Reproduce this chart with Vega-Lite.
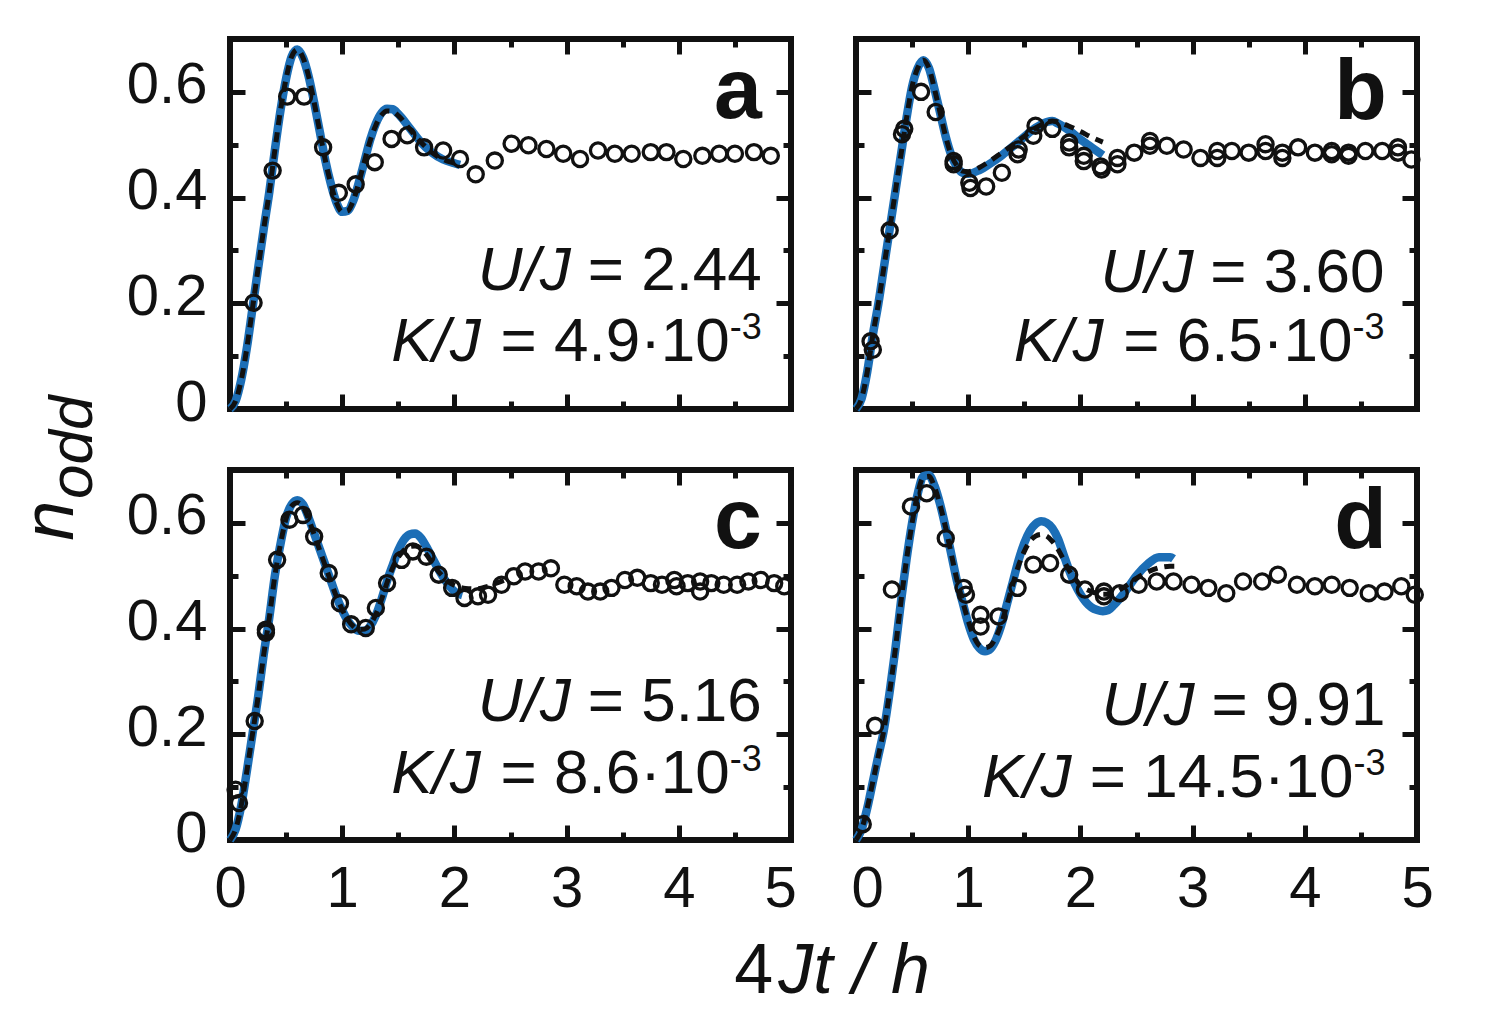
{
  "$schema": "https://vega.github.io/schema/vega-lite/v6.json",
  "background": "white",
  "autosize": {"type": "pad"},
  "padding": {"left": 11, "top": 29, "right": 5, "bottom": 5},
  "bounds": "flush",
  "columns": 2,
  "spacing": {"row": 61, "column": 65},
  "config": {
    "view": {"stroke": "#111", "strokeWidth": 6},
    "axis": {"domain": false, "grid": false, "labelFont": "Liberation Sans", "labelFontSize": 58, "labelColor": "#111", "tickColor": "#111", "tickWidth": 5, "labelOverlap": false, "labelFlush": false},
    "text": {"font": "Liberation Sans", "fill": "#111"}
  },
  "datasets": {
    "anchor": [{"id": 1}],
    "obs": [
      {"panel": "a", "t": 0.21, "n": 0.201}, {"panel": "a", "t": 0.38, "n": 0.451}, {"panel": "a", "t": 0.51, "n": 0.591}, {"panel": "a", "t": 0.66, "n": 0.591},
      {"panel": "a", "t": 0.83, "n": 0.495}, {"panel": "a", "t": 0.97, "n": 0.409}, {"panel": "a", "t": 1.12, "n": 0.425}, {"panel": "a", "t": 1.29, "n": 0.467},
      {"panel": "a", "t": 1.44, "n": 0.511}, {"panel": "a", "t": 1.58, "n": 0.518}, {"panel": "a", "t": 1.73, "n": 0.495}, {"panel": "a", "t": 1.9, "n": 0.489},
      {"panel": "a", "t": 2.05, "n": 0.473}, {"panel": "a", "t": 2.19, "n": 0.444}, {"panel": "a", "t": 2.36, "n": 0.47}, {"panel": "a", "t": 2.51, "n": 0.502},
      {"panel": "a", "t": 2.66, "n": 0.499}, {"panel": "a", "t": 2.82, "n": 0.492}, {"panel": "a", "t": 2.97, "n": 0.483}, {"panel": "a", "t": 3.12, "n": 0.473},
      {"panel": "a", "t": 3.28, "n": 0.489}, {"panel": "a", "t": 3.43, "n": 0.483}, {"panel": "a", "t": 3.58, "n": 0.483}, {"panel": "a", "t": 3.75, "n": 0.486},
      {"panel": "a", "t": 3.89, "n": 0.486}, {"panel": "a", "t": 4.04, "n": 0.473}, {"panel": "a", "t": 4.21, "n": 0.479}, {"panel": "a", "t": 4.36, "n": 0.483},
      {"panel": "a", "t": 4.5, "n": 0.483}, {"panel": "a", "t": 4.67, "n": 0.486}, {"panel": "a", "t": 4.82, "n": 0.479},

      {"panel": "b", "t": 0.13, "n": 0.128}, {"panel": "b", "t": 0.15, "n": 0.112}, {"panel": "b", "t": 0.3, "n": 0.338}, {"panel": "b", "t": 0.43, "n": 0.53},
      {"panel": "b", "t": 0.41, "n": 0.52}, {"panel": "b", "t": 0.58, "n": 0.6}, {"panel": "b", "t": 0.71, "n": 0.562}, {"panel": "b", "t": 0.87, "n": 0.469},
      {"panel": "b", "t": 0.87, "n": 0.463}, {"panel": "b", "t": 1.01, "n": 0.428}, {"panel": "b", "t": 1.02, "n": 0.418}, {"panel": "b", "t": 1.16, "n": 0.421},
      {"panel": "b", "t": 1.3, "n": 0.447}, {"panel": "b", "t": 1.45, "n": 0.491}, {"panel": "b", "t": 1.44, "n": 0.482}, {"panel": "b", "t": 1.6, "n": 0.536},
      {"panel": "b", "t": 1.58, "n": 0.517}, {"panel": "b", "t": 1.75, "n": 0.53}, {"panel": "b", "t": 1.9, "n": 0.504}, {"panel": "b", "t": 1.9, "n": 0.495},
      {"panel": "b", "t": 2.03, "n": 0.479}, {"panel": "b", "t": 2.03, "n": 0.469}, {"panel": "b", "t": 2.18, "n": 0.459}, {"panel": "b", "t": 2.19, "n": 0.453},
      {"panel": "b", "t": 2.33, "n": 0.475}, {"panel": "b", "t": 2.33, "n": 0.463}, {"panel": "b", "t": 2.48, "n": 0.485}, {"panel": "b", "t": 2.62, "n": 0.507},
      {"panel": "b", "t": 2.62, "n": 0.498}, {"panel": "b", "t": 2.77, "n": 0.498}, {"panel": "b", "t": 2.92, "n": 0.491}, {"panel": "b", "t": 3.07, "n": 0.475},
      {"panel": "b", "t": 3.22, "n": 0.475}, {"panel": "b", "t": 3.22, "n": 0.488}, {"panel": "b", "t": 3.35, "n": 0.488}, {"panel": "b", "t": 3.5, "n": 0.485},
      {"panel": "b", "t": 3.65, "n": 0.501}, {"panel": "b", "t": 3.65, "n": 0.488}, {"panel": "b", "t": 3.8, "n": 0.475}, {"panel": "b", "t": 3.8, "n": 0.485},
      {"panel": "b", "t": 3.94, "n": 0.495}, {"panel": "b", "t": 4.09, "n": 0.485}, {"panel": "b", "t": 4.24, "n": 0.488}, {"panel": "b", "t": 4.24, "n": 0.482},
      {"panel": "b", "t": 4.39, "n": 0.485}, {"panel": "b", "t": 4.39, "n": 0.479}, {"panel": "b", "t": 4.54, "n": 0.488}, {"panel": "b", "t": 4.69, "n": 0.488},
      {"panel": "b", "t": 4.83, "n": 0.495}, {"panel": "b", "t": 4.83, "n": 0.485}, {"panel": "b", "t": 4.95, "n": 0.472},

      {"panel": "c", "t": 0.05, "n": 0.095}, {"panel": "c", "t": 0.08, "n": 0.07}, {"panel": "c", "t": 0.22, "n": 0.225}, {"panel": "c", "t": 0.32, "n": 0.392},
      {"panel": "c", "t": 0.32, "n": 0.398}, {"panel": "c", "t": 0.42, "n": 0.53}, {"panel": "c", "t": 0.53, "n": 0.606}, {"panel": "c", "t": 0.65, "n": 0.615},
      {"panel": "c", "t": 0.75, "n": 0.574}, {"panel": "c", "t": 0.88, "n": 0.505}, {"panel": "c", "t": 0.98, "n": 0.448}, {"panel": "c", "t": 1.08, "n": 0.408},
      {"panel": "c", "t": 1.21, "n": 0.401}, {"panel": "c", "t": 1.3, "n": 0.439}, {"panel": "c", "t": 1.4, "n": 0.486}, {"panel": "c", "t": 1.53, "n": 0.53},
      {"panel": "c", "t": 1.63, "n": 0.546}, {"panel": "c", "t": 1.75, "n": 0.536}, {"panel": "c", "t": 1.86, "n": 0.502}, {"panel": "c", "t": 1.98, "n": 0.477},
      {"panel": "c", "t": 2.09, "n": 0.458}, {"panel": "c", "t": 2.21, "n": 0.461}, {"panel": "c", "t": 2.3, "n": 0.464}, {"panel": "c", "t": 2.42, "n": 0.483},
      {"panel": "c", "t": 2.53, "n": 0.499}, {"panel": "c", "t": 2.63, "n": 0.508}, {"panel": "c", "t": 2.75, "n": 0.508}, {"panel": "c", "t": 2.86, "n": 0.514},
      {"panel": "c", "t": 2.98, "n": 0.483}, {"panel": "c", "t": 3.09, "n": 0.48}, {"panel": "c", "t": 3.19, "n": 0.47}, {"panel": "c", "t": 3.3, "n": 0.47},
      {"panel": "c", "t": 3.4, "n": 0.477}, {"panel": "c", "t": 3.52, "n": 0.492}, {"panel": "c", "t": 3.63, "n": 0.496}, {"panel": "c", "t": 3.75, "n": 0.486},
      {"panel": "c", "t": 3.85, "n": 0.483}, {"panel": "c", "t": 3.96, "n": 0.492}, {"panel": "c", "t": 3.98, "n": 0.48}, {"panel": "c", "t": 4.08, "n": 0.486},
      {"panel": "c", "t": 4.19, "n": 0.489}, {"panel": "c", "t": 4.19, "n": 0.47}, {"panel": "c", "t": 4.29, "n": 0.486}, {"panel": "c", "t": 4.4, "n": 0.483},
      {"panel": "c", "t": 4.52, "n": 0.483}, {"panel": "c", "t": 4.62, "n": 0.489}, {"panel": "c", "t": 4.73, "n": 0.492}, {"panel": "c", "t": 4.85, "n": 0.486},
      {"panel": "c", "t": 4.94, "n": 0.48},

      {"panel": "d", "t": 0.06, "n": 0.03}, {"panel": "d", "t": 0.17, "n": 0.216}, {"panel": "d", "t": 0.32, "n": 0.474}, {"panel": "d", "t": 0.49, "n": 0.631},
      {"panel": "d", "t": 0.63, "n": 0.656}, {"panel": "d", "t": 0.8, "n": 0.571}, {"panel": "d", "t": 0.96, "n": 0.477}, {"panel": "d", "t": 0.98, "n": 0.464},
      {"panel": "d", "t": 1.11, "n": 0.426}, {"panel": "d", "t": 1.11, "n": 0.404}, {"panel": "d", "t": 1.27, "n": 0.423}, {"panel": "d", "t": 1.44, "n": 0.477},
      {"panel": "d", "t": 1.58, "n": 0.521}, {"panel": "d", "t": 1.73, "n": 0.524}, {"panel": "d", "t": 1.9, "n": 0.502}, {"panel": "d", "t": 2.04, "n": 0.474},
      {"panel": "d", "t": 2.21, "n": 0.47}, {"panel": "d", "t": 2.21, "n": 0.461}, {"panel": "d", "t": 2.35, "n": 0.467}, {"panel": "d", "t": 2.52, "n": 0.483},
      {"panel": "d", "t": 2.68, "n": 0.489}, {"panel": "d", "t": 2.83, "n": 0.489}, {"panel": "d", "t": 2.99, "n": 0.483}, {"panel": "d", "t": 3.14, "n": 0.477},
      {"panel": "d", "t": 3.3, "n": 0.467}, {"panel": "d", "t": 3.45, "n": 0.489}, {"panel": "d", "t": 3.62, "n": 0.489}, {"panel": "d", "t": 3.76, "n": 0.502},
      {"panel": "d", "t": 3.93, "n": 0.483}, {"panel": "d", "t": 4.09, "n": 0.48}, {"panel": "d", "t": 4.24, "n": 0.483}, {"panel": "d", "t": 4.4, "n": 0.477},
      {"panel": "d", "t": 4.57, "n": 0.467}, {"panel": "d", "t": 4.71, "n": 0.47}, {"panel": "d", "t": 4.86, "n": 0.48}, {"panel": "d", "t": 4.98, "n": 0.464}
    ],
    "fit": [
      {"panel": "a", "curve": "exact", "t": 0, "n": 0}, {"panel": "a", "curve": "exact", "t": 0.05, "n": 0.015}, {"panel": "a", "curve": "exact", "t": 0.1, "n": 0.055},
      {"panel": "a", "curve": "exact", "t": 0.15, "n": 0.115}, {"panel": "a", "curve": "exact", "t": 0.2, "n": 0.19}, {"panel": "a", "curve": "exact", "t": 0.25, "n": 0.265},
      {"panel": "a", "curve": "exact", "t": 0.3, "n": 0.34}, {"panel": "a", "curve": "exact", "t": 0.35, "n": 0.41}, {"panel": "a", "curve": "exact", "t": 0.4, "n": 0.49},
      {"panel": "a", "curve": "exact", "t": 0.45, "n": 0.565}, {"panel": "a", "curve": "exact", "t": 0.5, "n": 0.625}, {"panel": "a", "curve": "exact", "t": 0.55, "n": 0.667},
      {"panel": "a", "curve": "exact", "t": 0.6, "n": 0.68}, {"panel": "a", "curve": "exact", "t": 0.65, "n": 0.665}, {"panel": "a", "curve": "exact", "t": 0.7, "n": 0.63},
      {"panel": "a", "curve": "exact", "t": 0.75, "n": 0.58}, {"panel": "a", "curve": "exact", "t": 0.8, "n": 0.525}, {"panel": "a", "curve": "exact", "t": 0.85, "n": 0.47},
      {"panel": "a", "curve": "exact", "t": 0.9, "n": 0.425}, {"panel": "a", "curve": "exact", "t": 0.95, "n": 0.39}, {"panel": "a", "curve": "exact", "t": 1.0, "n": 0.373},
      {"panel": "a", "curve": "exact", "t": 1.05, "n": 0.375}, {"panel": "a", "curve": "exact", "t": 1.1, "n": 0.395}, {"panel": "a", "curve": "exact", "t": 1.15, "n": 0.43},
      {"panel": "a", "curve": "exact", "t": 1.2, "n": 0.47}, {"panel": "a", "curve": "exact", "t": 1.25, "n": 0.51}, {"panel": "a", "curve": "exact", "t": 1.3, "n": 0.54},
      {"panel": "a", "curve": "exact", "t": 1.35, "n": 0.56}, {"panel": "a", "curve": "exact", "t": 1.4, "n": 0.568}, {"panel": "a", "curve": "exact", "t": 1.45, "n": 0.567},
      {"panel": "a", "curve": "exact", "t": 1.5, "n": 0.558}, {"panel": "a", "curve": "exact", "t": 1.6, "n": 0.532}, {"panel": "a", "curve": "exact", "t": 1.7, "n": 0.505},
      {"panel": "a", "curve": "exact", "t": 1.8, "n": 0.485}, {"panel": "a", "curve": "exact", "t": 1.9, "n": 0.472}, {"panel": "a", "curve": "exact", "t": 2.0, "n": 0.465},
      {"panel": "a", "curve": "exact", "t": 2.05, "n": 0.462},

      {"panel": "a", "curve": "effective", "t": 0, "n": 0}, {"panel": "a", "curve": "effective", "t": 0.05, "n": 0.015}, {"panel": "a", "curve": "effective", "t": 0.1, "n": 0.055},
      {"panel": "a", "curve": "effective", "t": 0.15, "n": 0.115}, {"panel": "a", "curve": "effective", "t": 0.2, "n": 0.19}, {"panel": "a", "curve": "effective", "t": 0.25, "n": 0.265},
      {"panel": "a", "curve": "effective", "t": 0.3, "n": 0.34}, {"panel": "a", "curve": "effective", "t": 0.35, "n": 0.41}, {"panel": "a", "curve": "effective", "t": 0.4, "n": 0.49},
      {"panel": "a", "curve": "effective", "t": 0.45, "n": 0.565}, {"panel": "a", "curve": "effective", "t": 0.5, "n": 0.625}, {"panel": "a", "curve": "effective", "t": 0.55, "n": 0.667},
      {"panel": "a", "curve": "effective", "t": 0.6, "n": 0.68}, {"panel": "a", "curve": "effective", "t": 0.65, "n": 0.665}, {"panel": "a", "curve": "effective", "t": 0.7, "n": 0.63},
      {"panel": "a", "curve": "effective", "t": 0.75, "n": 0.58}, {"panel": "a", "curve": "effective", "t": 0.8, "n": 0.525}, {"panel": "a", "curve": "effective", "t": 0.85, "n": 0.47},
      {"panel": "a", "curve": "effective", "t": 0.9, "n": 0.425}, {"panel": "a", "curve": "effective", "t": 0.95, "n": 0.39}, {"panel": "a", "curve": "effective", "t": 1.0, "n": 0.373},
      {"panel": "a", "curve": "effective", "t": 1.05, "n": 0.375}, {"panel": "a", "curve": "effective", "t": 1.1, "n": 0.395}, {"panel": "a", "curve": "effective", "t": 1.15, "n": 0.43},
      {"panel": "a", "curve": "effective", "t": 1.2, "n": 0.47}, {"panel": "a", "curve": "effective", "t": 1.25, "n": 0.508}, {"panel": "a", "curve": "effective", "t": 1.3, "n": 0.537},
      {"panel": "a", "curve": "effective", "t": 1.35, "n": 0.556}, {"panel": "a", "curve": "effective", "t": 1.4, "n": 0.564}, {"panel": "a", "curve": "effective", "t": 1.45, "n": 0.563},
      {"panel": "a", "curve": "effective", "t": 1.5, "n": 0.555}, {"panel": "a", "curve": "effective", "t": 1.6, "n": 0.53}, {"panel": "a", "curve": "effective", "t": 1.7, "n": 0.505},
      {"panel": "a", "curve": "effective", "t": 1.8, "n": 0.485}, {"panel": "a", "curve": "effective", "t": 1.9, "n": 0.472}, {"panel": "a", "curve": "effective", "t": 2.0, "n": 0.465},
      {"panel": "a", "curve": "effective", "t": 2.05, "n": 0.462},

      {"panel": "b", "curve": "exact", "t": 0, "n": 0}, {"panel": "b", "curve": "exact", "t": 0.05, "n": 0.02}, {"panel": "b", "curve": "exact", "t": 0.1, "n": 0.07},
      {"panel": "b", "curve": "exact", "t": 0.15, "n": 0.14}, {"panel": "b", "curve": "exact", "t": 0.2, "n": 0.2}, {"panel": "b", "curve": "exact", "t": 0.25, "n": 0.27},
      {"panel": "b", "curve": "exact", "t": 0.3, "n": 0.34}, {"panel": "b", "curve": "exact", "t": 0.35, "n": 0.41}, {"panel": "b", "curve": "exact", "t": 0.4, "n": 0.48},
      {"panel": "b", "curve": "exact", "t": 0.45, "n": 0.55}, {"panel": "b", "curve": "exact", "t": 0.5, "n": 0.61}, {"panel": "b", "curve": "exact", "t": 0.55, "n": 0.645},
      {"panel": "b", "curve": "exact", "t": 0.6, "n": 0.66}, {"panel": "b", "curve": "exact", "t": 0.65, "n": 0.645}, {"panel": "b", "curve": "exact", "t": 0.7, "n": 0.605},
      {"panel": "b", "curve": "exact", "t": 0.75, "n": 0.56}, {"panel": "b", "curve": "exact", "t": 0.8, "n": 0.515}, {"panel": "b", "curve": "exact", "t": 0.85, "n": 0.48},
      {"panel": "b", "curve": "exact", "t": 0.9, "n": 0.458}, {"panel": "b", "curve": "exact", "t": 0.95, "n": 0.447}, {"panel": "b", "curve": "exact", "t": 1.0, "n": 0.445},
      {"panel": "b", "curve": "exact", "t": 1.1, "n": 0.452}, {"panel": "b", "curve": "exact", "t": 1.2, "n": 0.465}, {"panel": "b", "curve": "exact", "t": 1.3, "n": 0.48},
      {"panel": "b", "curve": "exact", "t": 1.4, "n": 0.497}, {"panel": "b", "curve": "exact", "t": 1.5, "n": 0.515}, {"panel": "b", "curve": "exact", "t": 1.6, "n": 0.532},
      {"panel": "b", "curve": "exact", "t": 1.7, "n": 0.543}, {"panel": "b", "curve": "exact", "t": 1.75, "n": 0.545}, {"panel": "b", "curve": "exact", "t": 1.8, "n": 0.54},
      {"panel": "b", "curve": "exact", "t": 1.9, "n": 0.527}, {"panel": "b", "curve": "exact", "t": 2.0, "n": 0.51}, {"panel": "b", "curve": "exact", "t": 2.1, "n": 0.495},
      {"panel": "b", "curve": "exact", "t": 2.2, "n": 0.48},

      {"panel": "b", "curve": "effective", "t": 0, "n": 0}, {"panel": "b", "curve": "effective", "t": 0.05, "n": 0.02}, {"panel": "b", "curve": "effective", "t": 0.1, "n": 0.07},
      {"panel": "b", "curve": "effective", "t": 0.15, "n": 0.14}, {"panel": "b", "curve": "effective", "t": 0.2, "n": 0.2}, {"panel": "b", "curve": "effective", "t": 0.25, "n": 0.27},
      {"panel": "b", "curve": "effective", "t": 0.3, "n": 0.34}, {"panel": "b", "curve": "effective", "t": 0.35, "n": 0.41}, {"panel": "b", "curve": "effective", "t": 0.4, "n": 0.48},
      {"panel": "b", "curve": "effective", "t": 0.45, "n": 0.55}, {"panel": "b", "curve": "effective", "t": 0.5, "n": 0.61}, {"panel": "b", "curve": "effective", "t": 0.55, "n": 0.645},
      {"panel": "b", "curve": "effective", "t": 0.6, "n": 0.66}, {"panel": "b", "curve": "effective", "t": 0.65, "n": 0.645}, {"panel": "b", "curve": "effective", "t": 0.7, "n": 0.605},
      {"panel": "b", "curve": "effective", "t": 0.75, "n": 0.56}, {"panel": "b", "curve": "effective", "t": 0.8, "n": 0.515}, {"panel": "b", "curve": "effective", "t": 0.85, "n": 0.48},
      {"panel": "b", "curve": "effective", "t": 0.9, "n": 0.46}, {"panel": "b", "curve": "effective", "t": 0.95, "n": 0.45}, {"panel": "b", "curve": "effective", "t": 1.0, "n": 0.449},
      {"panel": "b", "curve": "effective", "t": 1.1, "n": 0.457}, {"panel": "b", "curve": "effective", "t": 1.2, "n": 0.47}, {"panel": "b", "curve": "effective", "t": 1.3, "n": 0.485},
      {"panel": "b", "curve": "effective", "t": 1.4, "n": 0.5}, {"panel": "b", "curve": "effective", "t": 1.5, "n": 0.516}, {"panel": "b", "curve": "effective", "t": 1.6, "n": 0.532},
      {"panel": "b", "curve": "effective", "t": 1.7, "n": 0.542}, {"panel": "b", "curve": "effective", "t": 1.75, "n": 0.545}, {"panel": "b", "curve": "effective", "t": 1.8, "n": 0.543},
      {"panel": "b", "curve": "effective", "t": 1.9, "n": 0.535}, {"panel": "b", "curve": "effective", "t": 2.0, "n": 0.525}, {"panel": "b", "curve": "effective", "t": 2.1, "n": 0.514},
      {"panel": "b", "curve": "effective", "t": 2.2, "n": 0.505},

      {"panel": "c", "curve": "exact", "t": 0, "n": 0}, {"panel": "c", "curve": "exact", "t": 0.05, "n": 0.02}, {"panel": "c", "curve": "exact", "t": 0.1, "n": 0.065},
      {"panel": "c", "curve": "exact", "t": 0.15, "n": 0.13}, {"panel": "c", "curve": "exact", "t": 0.2, "n": 0.2}, {"panel": "c", "curve": "exact", "t": 0.25, "n": 0.27},
      {"panel": "c", "curve": "exact", "t": 0.3, "n": 0.35}, {"panel": "c", "curve": "exact", "t": 0.35, "n": 0.42}, {"panel": "c", "curve": "exact", "t": 0.4, "n": 0.5},
      {"panel": "c", "curve": "exact", "t": 0.45, "n": 0.56}, {"panel": "c", "curve": "exact", "t": 0.5, "n": 0.61}, {"panel": "c", "curve": "exact", "t": 0.55, "n": 0.635},
      {"panel": "c", "curve": "exact", "t": 0.6, "n": 0.643}, {"panel": "c", "curve": "exact", "t": 0.65, "n": 0.635}, {"panel": "c", "curve": "exact", "t": 0.7, "n": 0.61},
      {"panel": "c", "curve": "exact", "t": 0.75, "n": 0.58}, {"panel": "c", "curve": "exact", "t": 0.8, "n": 0.55}, {"panel": "c", "curve": "exact", "t": 0.85, "n": 0.52},
      {"panel": "c", "curve": "exact", "t": 0.9, "n": 0.49}, {"panel": "c", "curve": "exact", "t": 0.95, "n": 0.46}, {"panel": "c", "curve": "exact", "t": 1.0, "n": 0.435},
      {"panel": "c", "curve": "exact", "t": 1.05, "n": 0.415}, {"panel": "c", "curve": "exact", "t": 1.1, "n": 0.402}, {"panel": "c", "curve": "exact", "t": 1.15, "n": 0.396},
      {"panel": "c", "curve": "exact", "t": 1.2, "n": 0.396}, {"panel": "c", "curve": "exact", "t": 1.25, "n": 0.405}, {"panel": "c", "curve": "exact", "t": 1.3, "n": 0.425},
      {"panel": "c", "curve": "exact", "t": 1.35, "n": 0.455}, {"panel": "c", "curve": "exact", "t": 1.4, "n": 0.49}, {"panel": "c", "curve": "exact", "t": 1.45, "n": 0.52},
      {"panel": "c", "curve": "exact", "t": 1.5, "n": 0.548}, {"panel": "c", "curve": "exact", "t": 1.55, "n": 0.568}, {"panel": "c", "curve": "exact", "t": 1.6, "n": 0.578},
      {"panel": "c", "curve": "exact", "t": 1.65, "n": 0.58}, {"panel": "c", "curve": "exact", "t": 1.7, "n": 0.572}, {"panel": "c", "curve": "exact", "t": 1.75, "n": 0.555},
      {"panel": "c", "curve": "exact", "t": 1.8, "n": 0.535}, {"panel": "c", "curve": "exact", "t": 1.85, "n": 0.515}, {"panel": "c", "curve": "exact", "t": 1.9, "n": 0.497},
      {"panel": "c", "curve": "exact", "t": 1.95, "n": 0.482}, {"panel": "c", "curve": "exact", "t": 2.0, "n": 0.47}, {"panel": "c", "curve": "exact", "t": 2.07, "n": 0.463},

      {"panel": "c", "curve": "effective", "t": 0, "n": 0}, {"panel": "c", "curve": "effective", "t": 0.05, "n": 0.02}, {"panel": "c", "curve": "effective", "t": 0.1, "n": 0.065},
      {"panel": "c", "curve": "effective", "t": 0.15, "n": 0.13}, {"panel": "c", "curve": "effective", "t": 0.2, "n": 0.2}, {"panel": "c", "curve": "effective", "t": 0.25, "n": 0.27},
      {"panel": "c", "curve": "effective", "t": 0.3, "n": 0.35}, {"panel": "c", "curve": "effective", "t": 0.35, "n": 0.42}, {"panel": "c", "curve": "effective", "t": 0.4, "n": 0.5},
      {"panel": "c", "curve": "effective", "t": 0.45, "n": 0.56}, {"panel": "c", "curve": "effective", "t": 0.5, "n": 0.608}, {"panel": "c", "curve": "effective", "t": 0.55, "n": 0.632},
      {"panel": "c", "curve": "effective", "t": 0.6, "n": 0.638}, {"panel": "c", "curve": "effective", "t": 0.65, "n": 0.63}, {"panel": "c", "curve": "effective", "t": 0.7, "n": 0.607},
      {"panel": "c", "curve": "effective", "t": 0.75, "n": 0.578}, {"panel": "c", "curve": "effective", "t": 0.8, "n": 0.548}, {"panel": "c", "curve": "effective", "t": 0.85, "n": 0.518},
      {"panel": "c", "curve": "effective", "t": 0.9, "n": 0.488}, {"panel": "c", "curve": "effective", "t": 0.95, "n": 0.46}, {"panel": "c", "curve": "effective", "t": 1.0, "n": 0.436},
      {"panel": "c", "curve": "effective", "t": 1.05, "n": 0.417}, {"panel": "c", "curve": "effective", "t": 1.1, "n": 0.404}, {"panel": "c", "curve": "effective", "t": 1.15, "n": 0.398},
      {"panel": "c", "curve": "effective", "t": 1.2, "n": 0.399}, {"panel": "c", "curve": "effective", "t": 1.25, "n": 0.408}, {"panel": "c", "curve": "effective", "t": 1.3, "n": 0.427},
      {"panel": "c", "curve": "effective", "t": 1.35, "n": 0.455}, {"panel": "c", "curve": "effective", "t": 1.4, "n": 0.487}, {"panel": "c", "curve": "effective", "t": 1.45, "n": 0.515},
      {"panel": "c", "curve": "effective", "t": 1.5, "n": 0.535}, {"panel": "c", "curve": "effective", "t": 1.55, "n": 0.548}, {"panel": "c", "curve": "effective", "t": 1.6, "n": 0.555},
      {"panel": "c", "curve": "effective", "t": 1.65, "n": 0.556}, {"panel": "c", "curve": "effective", "t": 1.7, "n": 0.552}, {"panel": "c", "curve": "effective", "t": 1.75, "n": 0.54},
      {"panel": "c", "curve": "effective", "t": 1.8, "n": 0.525}, {"panel": "c", "curve": "effective", "t": 1.85, "n": 0.51}, {"panel": "c", "curve": "effective", "t": 1.9, "n": 0.498},
      {"panel": "c", "curve": "effective", "t": 1.95, "n": 0.488}, {"panel": "c", "curve": "effective", "t": 2.0, "n": 0.482}, {"panel": "c", "curve": "effective", "t": 2.1, "n": 0.476},
      {"panel": "c", "curve": "effective", "t": 2.2, "n": 0.475}, {"panel": "c", "curve": "effective", "t": 2.3, "n": 0.48}, {"panel": "c", "curve": "effective", "t": 2.4, "n": 0.488},
      {"panel": "c", "curve": "effective", "t": 2.45, "n": 0.492},

      {"panel": "d", "curve": "exact", "t": 0, "n": 0}, {"panel": "d", "curve": "exact", "t": 0.05, "n": 0.02}, {"panel": "d", "curve": "exact", "t": 0.1, "n": 0.06},
      {"panel": "d", "curve": "exact", "t": 0.15, "n": 0.11}, {"panel": "d", "curve": "exact", "t": 0.2, "n": 0.16}, {"panel": "d", "curve": "exact", "t": 0.25, "n": 0.21},
      {"panel": "d", "curve": "exact", "t": 0.3, "n": 0.28}, {"panel": "d", "curve": "exact", "t": 0.35, "n": 0.36}, {"panel": "d", "curve": "exact", "t": 0.4, "n": 0.45},
      {"panel": "d", "curve": "exact", "t": 0.45, "n": 0.53}, {"panel": "d", "curve": "exact", "t": 0.5, "n": 0.6}, {"panel": "d", "curve": "exact", "t": 0.55, "n": 0.655},
      {"panel": "d", "curve": "exact", "t": 0.6, "n": 0.688}, {"panel": "d", "curve": "exact", "t": 0.65, "n": 0.69}, {"panel": "d", "curve": "exact", "t": 0.7, "n": 0.67},
      {"panel": "d", "curve": "exact", "t": 0.75, "n": 0.635}, {"panel": "d", "curve": "exact", "t": 0.8, "n": 0.59}, {"panel": "d", "curve": "exact", "t": 0.85, "n": 0.54},
      {"panel": "d", "curve": "exact", "t": 0.9, "n": 0.49}, {"panel": "d", "curve": "exact", "t": 0.95, "n": 0.45}, {"panel": "d", "curve": "exact", "t": 1.0, "n": 0.41},
      {"panel": "d", "curve": "exact", "t": 1.05, "n": 0.38}, {"panel": "d", "curve": "exact", "t": 1.1, "n": 0.363}, {"panel": "d", "curve": "exact", "t": 1.15, "n": 0.357},
      {"panel": "d", "curve": "exact", "t": 1.2, "n": 0.362}, {"panel": "d", "curve": "exact", "t": 1.25, "n": 0.38}, {"panel": "d", "curve": "exact", "t": 1.3, "n": 0.41},
      {"panel": "d", "curve": "exact", "t": 1.35, "n": 0.45}, {"panel": "d", "curve": "exact", "t": 1.4, "n": 0.49}, {"panel": "d", "curve": "exact", "t": 1.45, "n": 0.53},
      {"panel": "d", "curve": "exact", "t": 1.5, "n": 0.562}, {"panel": "d", "curve": "exact", "t": 1.55, "n": 0.585}, {"panel": "d", "curve": "exact", "t": 1.6, "n": 0.598},
      {"panel": "d", "curve": "exact", "t": 1.65, "n": 0.603}, {"panel": "d", "curve": "exact", "t": 1.7, "n": 0.6}, {"panel": "d", "curve": "exact", "t": 1.75, "n": 0.59},
      {"panel": "d", "curve": "exact", "t": 1.8, "n": 0.57}, {"panel": "d", "curve": "exact", "t": 1.85, "n": 0.54}, {"panel": "d", "curve": "exact", "t": 1.9, "n": 0.51},
      {"panel": "d", "curve": "exact", "t": 1.95, "n": 0.485}, {"panel": "d", "curve": "exact", "t": 2.0, "n": 0.465}, {"panel": "d", "curve": "exact", "t": 2.05, "n": 0.45},
      {"panel": "d", "curve": "exact", "t": 2.1, "n": 0.44}, {"panel": "d", "curve": "exact", "t": 2.15, "n": 0.435}, {"panel": "d", "curve": "exact", "t": 2.2, "n": 0.433},
      {"panel": "d", "curve": "exact", "t": 2.25, "n": 0.435}, {"panel": "d", "curve": "exact", "t": 2.3, "n": 0.445}, {"panel": "d", "curve": "exact", "t": 2.4, "n": 0.47},
      {"panel": "d", "curve": "exact", "t": 2.5, "n": 0.5}, {"panel": "d", "curve": "exact", "t": 2.6, "n": 0.522}, {"panel": "d", "curve": "exact", "t": 2.7, "n": 0.535},
      {"panel": "d", "curve": "exact", "t": 2.8, "n": 0.535}, {"panel": "d", "curve": "exact", "t": 2.83, "n": 0.532},

      {"panel": "d", "curve": "effective", "t": 0, "n": 0}, {"panel": "d", "curve": "effective", "t": 0.05, "n": 0.02}, {"panel": "d", "curve": "effective", "t": 0.1, "n": 0.06},
      {"panel": "d", "curve": "effective", "t": 0.15, "n": 0.11}, {"panel": "d", "curve": "effective", "t": 0.2, "n": 0.16}, {"panel": "d", "curve": "effective", "t": 0.25, "n": 0.21},
      {"panel": "d", "curve": "effective", "t": 0.3, "n": 0.28}, {"panel": "d", "curve": "effective", "t": 0.35, "n": 0.36}, {"panel": "d", "curve": "effective", "t": 0.4, "n": 0.45},
      {"panel": "d", "curve": "effective", "t": 0.45, "n": 0.53}, {"panel": "d", "curve": "effective", "t": 0.5, "n": 0.6}, {"panel": "d", "curve": "effective", "t": 0.55, "n": 0.655},
      {"panel": "d", "curve": "effective", "t": 0.6, "n": 0.686}, {"panel": "d", "curve": "effective", "t": 0.65, "n": 0.688}, {"panel": "d", "curve": "effective", "t": 0.7, "n": 0.668},
      {"panel": "d", "curve": "effective", "t": 0.75, "n": 0.633}, {"panel": "d", "curve": "effective", "t": 0.8, "n": 0.59}, {"panel": "d", "curve": "effective", "t": 0.85, "n": 0.54},
      {"panel": "d", "curve": "effective", "t": 0.9, "n": 0.492}, {"panel": "d", "curve": "effective", "t": 0.95, "n": 0.452}, {"panel": "d", "curve": "effective", "t": 1.0, "n": 0.415},
      {"panel": "d", "curve": "effective", "t": 1.05, "n": 0.385}, {"panel": "d", "curve": "effective", "t": 1.1, "n": 0.368}, {"panel": "d", "curve": "effective", "t": 1.15, "n": 0.364},
      {"panel": "d", "curve": "effective", "t": 1.2, "n": 0.368}, {"panel": "d", "curve": "effective", "t": 1.25, "n": 0.385}, {"panel": "d", "curve": "effective", "t": 1.3, "n": 0.412},
      {"panel": "d", "curve": "effective", "t": 1.35, "n": 0.448}, {"panel": "d", "curve": "effective", "t": 1.4, "n": 0.485}, {"panel": "d", "curve": "effective", "t": 1.45, "n": 0.52},
      {"panel": "d", "curve": "effective", "t": 1.5, "n": 0.546}, {"panel": "d", "curve": "effective", "t": 1.55, "n": 0.565}, {"panel": "d", "curve": "effective", "t": 1.6, "n": 0.575},
      {"panel": "d", "curve": "effective", "t": 1.65, "n": 0.578}, {"panel": "d", "curve": "effective", "t": 1.7, "n": 0.575}, {"panel": "d", "curve": "effective", "t": 1.75, "n": 0.565},
      {"panel": "d", "curve": "effective", "t": 1.8, "n": 0.55}, {"panel": "d", "curve": "effective", "t": 1.85, "n": 0.53}, {"panel": "d", "curve": "effective", "t": 1.9, "n": 0.51},
      {"panel": "d", "curve": "effective", "t": 1.95, "n": 0.495}, {"panel": "d", "curve": "effective", "t": 2.0, "n": 0.482}, {"panel": "d", "curve": "effective", "t": 2.1, "n": 0.47},
      {"panel": "d", "curve": "effective", "t": 2.2, "n": 0.465}, {"panel": "d", "curve": "effective", "t": 2.25, "n": 0.465}, {"panel": "d", "curve": "effective", "t": 2.3, "n": 0.468},
      {"panel": "d", "curve": "effective", "t": 2.4, "n": 0.48}, {"panel": "d", "curve": "effective", "t": 2.5, "n": 0.495}, {"panel": "d", "curve": "effective", "t": 2.6, "n": 0.507},
      {"panel": "d", "curve": "effective", "t": 2.7, "n": 0.515}, {"panel": "d", "curve": "effective", "t": 2.8, "n": 0.518}, {"panel": "d", "curve": "effective", "t": 2.85, "n": 0.518}
    ]
  },
  "concat": [
    {
      "width": 561, "height": 370,
      "resolve": {"axis": {"x": "independent", "y": "independent"}},
      "layer": [
        {
          "data": {"name": "fit"},
          "transform": [{"filter": "datum.panel == 'a' && datum.curve == 'exact'"}],
          "mark": {"type": "line", "stroke": "#1c6eb6", "strokeWidth": 8.5, "interpolate": "monotone"},
          "encoding": {
            "x": {"field": "t", "type": "quantitative", "scale": {"domain": [0, 5], "nice": false, "zero": false},
                  "axis": {"orient": "bottom", "title": null, "labels": false, "values": [0, 0.5, 1, 1.5, 2, 2.5, 3, 3.5, 4, 4.5, 5],
                           "tickSize": {"condition": {"test": "datum.value % 1 == 0", "value": -15}, "value": -8}}},
            "y": {"field": "n", "type": "quantitative", "scale": {"domain": [0, 0.7], "nice": false},
                  "axis": {"orient": "left", "title": null, "values": [0, 0.1, 0.2, 0.3, 0.4, 0.5, 0.6], "labelPadding": 38, "labelOffset": -6,
                           "labelExpr": "round(datum.value * 10) % 2 == 0 ? (datum.value == 0 ? '0' : format(datum.value, '.1f')) : ''",
                           "tickSize": {"condition": {"test": "round(datum.value * 10) % 2 == 0", "value": -15}, "value": -8}}}
          }
        },
        {
          "data": {"name": "fit"},
          "transform": [{"filter": "datum.panel == 'a' && datum.curve == 'effective'"}],
          "mark": {"type": "line", "stroke": "#111", "strokeWidth": 5, "strokeDash": [10, 7], "interpolate": "monotone"},
          "encoding": {
            "x": {"field": "t", "type": "quantitative",
                  "axis": {"orient": "top", "title": null, "labels": false, "values": [0, 0.5, 1, 1.5, 2, 2.5, 3, 3.5, 4, 4.5, 5],
                           "tickSize": {"condition": {"test": "datum.value % 1 == 0", "value": -15}, "value": -8}}},
            "y": {"field": "n", "type": "quantitative",
                  "axis": {"orient": "right", "title": null, "labels": false, "values": [0, 0.1, 0.2, 0.3, 0.4, 0.5, 0.6],
                           "tickSize": {"condition": {"test": "round(datum.value * 10) % 2 == 0", "value": -15}, "value": -8}}}
          }
        },
        {
          "data": {"name": "obs"},
          "transform": [{"filter": "datum.panel == 'a'"}],
          "mark": {"type": "point", "filled": false, "stroke": "#111", "strokeWidth": 3.3, "size": 230, "opacity": 1},
          "encoding": {"x": {"field": "t", "type": "quantitative", "axis": null}, "y": {"field": "n", "type": "quantitative", "axis": null}}
        },
        {
          "data": {"name": "anchor"},
          "mark": {"type": "text", "align": "right", "baseline": "alphabetic", "fontSize": 86, "fontWeight": "bold"},
          "encoding": {"x": {"datum": 4.74, "type": "quantitative", "axis": null}, "y": {"datum": 0.551, "type": "quantitative", "axis": null}, "text": {"value": "a"}}
        },
        {
          "data": {"name": "anchor"},
          "mark": {"type": "text", "align": "right", "baseline": "alphabetic", "fontSize": 62, "fontStyle": "italic", "dx": -191},
          "encoding": {"x": {"datum": 4.74, "type": "quantitative", "axis": null}, "y": {"datum": 0.226, "type": "quantitative", "axis": null}, "text": {"value": "U/J"}}
        },
        {
          "data": {"name": "anchor"},
          "mark": {"type": "text", "align": "right", "baseline": "alphabetic", "fontSize": 62},
          "encoding": {"x": {"datum": 4.74, "type": "quantitative", "axis": null}, "y": {"datum": 0.226, "type": "quantitative", "axis": null}, "text": {"value": " = 2.44"}}
        },
        {
          "data": {"name": "anchor"},
          "mark": {"type": "text", "align": "right", "baseline": "alphabetic", "fontSize": 62, "fontStyle": "italic", "dx": -281},
          "encoding": {"x": {"datum": 4.74, "type": "quantitative", "axis": null}, "y": {"datum": 0.09, "type": "quantitative", "axis": null}, "text": {"value": "K/J"}}
        },
        {
          "data": {"name": "anchor"},
          "mark": {"type": "text", "align": "right", "baseline": "alphabetic", "fontSize": 62, "dx": -32},
          "encoding": {"x": {"datum": 4.74, "type": "quantitative", "axis": null}, "y": {"datum": 0.09, "type": "quantitative", "axis": null}, "text": {"value": " = 4.9·10"}}
        },
        {
          "data": {"name": "anchor"},
          "mark": {"type": "text", "align": "right", "baseline": "alphabetic", "fontSize": 36, "dy": -22},
          "encoding": {"x": {"datum": 4.74, "type": "quantitative", "axis": null}, "y": {"datum": 0.09, "type": "quantitative", "axis": null}, "text": {"value": "-3"}}
        }
      ]
    },
    {
      "width": 561, "height": 370,
      "resolve": {"axis": {"x": "independent", "y": "independent"}},
      "layer": [
        {
          "data": {"name": "fit"},
          "transform": [{"filter": "datum.panel == 'b' && datum.curve == 'exact'"}],
          "mark": {"type": "line", "stroke": "#1c6eb6", "strokeWidth": 8.5, "interpolate": "monotone"},
          "encoding": {
            "x": {"field": "t", "type": "quantitative", "scale": {"domain": [0, 5], "nice": false, "zero": false},
                  "axis": {"orient": "bottom", "title": null, "labels": false, "values": [0, 0.5, 1, 1.5, 2, 2.5, 3, 3.5, 4, 4.5, 5],
                           "tickSize": {"condition": {"test": "datum.value % 1 == 0", "value": -15}, "value": -8}}},
            "y": {"field": "n", "type": "quantitative", "scale": {"domain": [0, 0.7], "nice": false},
                  "axis": {"orient": "left", "title": null, "labels": false, "values": [0, 0.1, 0.2, 0.3, 0.4, 0.5, 0.6],
                           "tickSize": {"condition": {"test": "round(datum.value * 10) % 2 == 0", "value": -15}, "value": -8}}}
          }
        },
        {
          "data": {"name": "fit"},
          "transform": [{"filter": "datum.panel == 'b' && datum.curve == 'effective'"}],
          "mark": {"type": "line", "stroke": "#111", "strokeWidth": 5, "strokeDash": [10, 7], "interpolate": "monotone"},
          "encoding": {
            "x": {"field": "t", "type": "quantitative",
                  "axis": {"orient": "top", "title": null, "labels": false, "values": [0, 0.5, 1, 1.5, 2, 2.5, 3, 3.5, 4, 4.5, 5],
                           "tickSize": {"condition": {"test": "datum.value % 1 == 0", "value": -15}, "value": -8}}},
            "y": {"field": "n", "type": "quantitative",
                  "axis": {"orient": "right", "title": null, "labels": false, "values": [0, 0.1, 0.2, 0.3, 0.4, 0.5, 0.6],
                           "tickSize": {"condition": {"test": "round(datum.value * 10) % 2 == 0", "value": -15}, "value": -8}}}
          }
        },
        {
          "data": {"name": "obs"},
          "transform": [{"filter": "datum.panel == 'b'"}],
          "mark": {"type": "point", "filled": false, "stroke": "#111", "strokeWidth": 3.3, "size": 230, "opacity": 1},
          "encoding": {"x": {"field": "t", "type": "quantitative", "axis": null}, "y": {"field": "n", "type": "quantitative", "axis": null}}
        },
        {
          "data": {"name": "anchor"},
          "mark": {"type": "text", "align": "right", "baseline": "alphabetic", "fontSize": 86, "fontWeight": "bold"},
          "encoding": {"x": {"datum": 4.73, "type": "quantitative", "axis": null}, "y": {"datum": 0.548, "type": "quantitative", "axis": null}, "text": {"value": "b"}}
        },
        {
          "data": {"name": "anchor"},
          "mark": {"type": "text", "align": "right", "baseline": "alphabetic", "fontSize": 62, "fontStyle": "italic", "dx": -191},
          "encoding": {"x": {"datum": 4.71, "type": "quantitative", "axis": null}, "y": {"datum": 0.222, "type": "quantitative", "axis": null}, "text": {"value": "U/J"}}
        },
        {
          "data": {"name": "anchor"},
          "mark": {"type": "text", "align": "right", "baseline": "alphabetic", "fontSize": 62},
          "encoding": {"x": {"datum": 4.71, "type": "quantitative", "axis": null}, "y": {"datum": 0.222, "type": "quantitative", "axis": null}, "text": {"value": " = 3.60"}}
        },
        {
          "data": {"name": "anchor"},
          "mark": {"type": "text", "align": "right", "baseline": "alphabetic", "fontSize": 62, "fontStyle": "italic", "dx": -281},
          "encoding": {"x": {"datum": 4.71, "type": "quantitative", "axis": null}, "y": {"datum": 0.09, "type": "quantitative", "axis": null}, "text": {"value": "K/J"}}
        },
        {
          "data": {"name": "anchor"},
          "mark": {"type": "text", "align": "right", "baseline": "alphabetic", "fontSize": 62, "dx": -32},
          "encoding": {"x": {"datum": 4.71, "type": "quantitative", "axis": null}, "y": {"datum": 0.09, "type": "quantitative", "axis": null}, "text": {"value": " = 6.5·10"}}
        },
        {
          "data": {"name": "anchor"},
          "mark": {"type": "text", "align": "right", "baseline": "alphabetic", "fontSize": 36, "dy": -22},
          "encoding": {"x": {"datum": 4.71, "type": "quantitative", "axis": null}, "y": {"datum": 0.09, "type": "quantitative", "axis": null}, "text": {"value": "-3"}}
        }
      ]
    },
    {
      "width": 561, "height": 370,
      "resolve": {"axis": {"x": "independent", "y": "independent"}},
      "layer": [
        {
          "data": {"name": "fit"},
          "transform": [{"filter": "datum.panel == 'c' && datum.curve == 'exact'"}],
          "mark": {"type": "line", "stroke": "#1c6eb6", "strokeWidth": 8.5, "interpolate": "monotone"},
          "encoding": {
            "x": {"field": "t", "type": "quantitative", "scale": {"domain": [0, 5], "nice": false, "zero": false},
                  "axis": {"orient": "bottom", "title": null, "values": [0, 0.5, 1, 1.5, 2, 2.5, 3, 3.5, 4, 4.5, 5], "labelPadding": 35,
                           "labelExpr": "datum.value % 1 == 0 ? format(datum.value, 'd') : ''",
                           "labelOffset": {"condition": {"test": "datum.value == 5", "value": -11}, "value": 0},
                           "tickSize": {"condition": {"test": "datum.value % 1 == 0", "value": -15}, "value": -8}}},
            "y": {"field": "n", "type": "quantitative", "scale": {"domain": [0, 0.7], "nice": false},
                  "axis": {"orient": "left", "title": null, "values": [0, 0.1, 0.2, 0.3, 0.4, 0.5, 0.6], "labelPadding": 38, "labelOffset": -6,
                           "labelExpr": "round(datum.value * 10) % 2 == 0 ? (datum.value == 0 ? '0' : format(datum.value, '.1f')) : ''",
                           "tickSize": {"condition": {"test": "round(datum.value * 10) % 2 == 0", "value": -15}, "value": -8}}}
          }
        },
        {
          "data": {"name": "fit"},
          "transform": [{"filter": "datum.panel == 'c' && datum.curve == 'effective'"}],
          "mark": {"type": "line", "stroke": "#111", "strokeWidth": 5, "strokeDash": [10, 7], "interpolate": "monotone"},
          "encoding": {
            "x": {"field": "t", "type": "quantitative",
                  "axis": {"orient": "top", "title": null, "labels": false, "values": [0, 0.5, 1, 1.5, 2, 2.5, 3, 3.5, 4, 4.5, 5],
                           "tickSize": {"condition": {"test": "datum.value % 1 == 0", "value": -15}, "value": -8}}},
            "y": {"field": "n", "type": "quantitative",
                  "axis": {"orient": "right", "title": null, "labels": false, "values": [0, 0.1, 0.2, 0.3, 0.4, 0.5, 0.6],
                           "tickSize": {"condition": {"test": "round(datum.value * 10) % 2 == 0", "value": -15}, "value": -8}}}
          }
        },
        {
          "data": {"name": "obs"},
          "transform": [{"filter": "datum.panel == 'c'"}],
          "mark": {"type": "point", "filled": false, "stroke": "#111", "strokeWidth": 3.3, "size": 230, "opacity": 1},
          "encoding": {"x": {"field": "t", "type": "quantitative", "axis": null}, "y": {"field": "n", "type": "quantitative", "axis": null}}
        },
        {
          "data": {"name": "anchor"},
          "mark": {"type": "text", "align": "right", "baseline": "alphabetic", "fontSize": 86, "fontWeight": "bold"},
          "encoding": {"x": {"datum": 4.74, "type": "quantitative", "axis": null}, "y": {"datum": 0.552, "type": "quantitative", "axis": null}, "text": {"value": "c"}}
        },
        {
          "data": {"name": "anchor"},
          "mark": {"type": "text", "align": "right", "baseline": "alphabetic", "fontSize": 62, "fontStyle": "italic", "dx": -191},
          "encoding": {"x": {"datum": 4.74, "type": "quantitative", "axis": null}, "y": {"datum": 0.225, "type": "quantitative", "axis": null}, "text": {"value": "U/J"}}
        },
        {
          "data": {"name": "anchor"},
          "mark": {"type": "text", "align": "right", "baseline": "alphabetic", "fontSize": 62},
          "encoding": {"x": {"datum": 4.74, "type": "quantitative", "axis": null}, "y": {"datum": 0.225, "type": "quantitative", "axis": null}, "text": {"value": " = 5.16"}}
        },
        {
          "data": {"name": "anchor"},
          "mark": {"type": "text", "align": "right", "baseline": "alphabetic", "fontSize": 62, "fontStyle": "italic", "dx": -281},
          "encoding": {"x": {"datum": 4.74, "type": "quantitative", "axis": null}, "y": {"datum": 0.089, "type": "quantitative", "axis": null}, "text": {"value": "K/J"}}
        },
        {
          "data": {"name": "anchor"},
          "mark": {"type": "text", "align": "right", "baseline": "alphabetic", "fontSize": 62, "dx": -32},
          "encoding": {"x": {"datum": 4.74, "type": "quantitative", "axis": null}, "y": {"datum": 0.089, "type": "quantitative", "axis": null}, "text": {"value": " = 8.6·10"}}
        },
        {
          "data": {"name": "anchor"},
          "mark": {"type": "text", "align": "right", "baseline": "alphabetic", "fontSize": 36, "dy": -22},
          "encoding": {"x": {"datum": 4.74, "type": "quantitative", "axis": null}, "y": {"datum": 0.089, "type": "quantitative", "axis": null}, "text": {"value": "-3"}}
        },
        {
          "data": {"name": "anchor"},
          "mark": {"type": "text", "align": "left", "baseline": "alphabetic", "angle": 270, "fontSize": 72, "fontStyle": "italic"},
          "encoding": {"x": {"datum": -1.4, "type": "quantitative", "axis": null}, "y": {"datum": 0.566, "type": "quantitative", "axis": null}, "text": {"value": "n"}}
        },
        {
          "data": {"name": "anchor"},
          "mark": {"type": "text", "align": "left", "baseline": "alphabetic", "angle": 270, "fontSize": 62, "fontStyle": "italic"},
          "encoding": {"x": {"datum": -1.23, "type": "quantitative", "axis": null}, "y": {"datum": 0.645, "type": "quantitative", "axis": null}, "text": {"value": "odd"}}
        },
        {
          "data": {"name": "anchor"},
          "mark": {"type": "text", "align": "right", "baseline": "alphabetic", "fontSize": 70, "dx": -2},
          "encoding": {"x": {"datum": 4.86, "type": "quantitative", "axis": null}, "y": {"datum": -0.289, "type": "quantitative", "axis": null}, "text": {"value": "4"}}
        },
        {
          "data": {"name": "anchor"},
          "mark": {"type": "text", "align": "left", "baseline": "alphabetic", "fontSize": 70, "fontStyle": "italic", "dx": 3},
          "encoding": {"x": {"datum": 4.86, "type": "quantitative", "axis": null}, "y": {"datum": -0.289, "type": "quantitative", "axis": null}, "text": {"value": "Jt / h"}}
        }
      ]
    },
    {
      "width": 561, "height": 370,
      "resolve": {"axis": {"x": "independent", "y": "independent"}},
      "layer": [
        {
          "data": {"name": "fit"},
          "transform": [{"filter": "datum.panel == 'd' && datum.curve == 'exact'"}],
          "mark": {"type": "line", "stroke": "#1c6eb6", "strokeWidth": 8.5, "interpolate": "monotone"},
          "encoding": {
            "x": {"field": "t", "type": "quantitative", "scale": {"domain": [0, 5], "nice": false, "zero": false},
                  "axis": {"orient": "bottom", "title": null, "values": [0, 0.5, 1, 1.5, 2, 2.5, 3, 3.5, 4, 4.5, 5], "labelPadding": 35,
                           "labelExpr": "datum.value % 1 == 0 ? format(datum.value, 'd') : ''",
                           "labelOffset": {"condition": {"test": "datum.value == 0", "value": 11}, "value": 0},
                           "tickSize": {"condition": {"test": "datum.value % 1 == 0", "value": -15}, "value": -8}}},
            "y": {"field": "n", "type": "quantitative", "scale": {"domain": [0, 0.7], "nice": false},
                  "axis": {"orient": "left", "title": null, "labels": false, "values": [0, 0.1, 0.2, 0.3, 0.4, 0.5, 0.6],
                           "tickSize": {"condition": {"test": "round(datum.value * 10) % 2 == 0", "value": -15}, "value": -8}}}
          }
        },
        {
          "data": {"name": "fit"},
          "transform": [{"filter": "datum.panel == 'd' && datum.curve == 'effective'"}],
          "mark": {"type": "line", "stroke": "#111", "strokeWidth": 5, "strokeDash": [10, 7], "interpolate": "monotone"},
          "encoding": {
            "x": {"field": "t", "type": "quantitative",
                  "axis": {"orient": "top", "title": null, "labels": false, "values": [0, 0.5, 1, 1.5, 2, 2.5, 3, 3.5, 4, 4.5, 5],
                           "tickSize": {"condition": {"test": "datum.value % 1 == 0", "value": -15}, "value": -8}}},
            "y": {"field": "n", "type": "quantitative",
                  "axis": {"orient": "right", "title": null, "labels": false, "values": [0, 0.1, 0.2, 0.3, 0.4, 0.5, 0.6],
                           "tickSize": {"condition": {"test": "round(datum.value * 10) % 2 == 0", "value": -15}, "value": -8}}}
          }
        },
        {
          "data": {"name": "obs"},
          "transform": [{"filter": "datum.panel == 'd'"}],
          "mark": {"type": "point", "filled": false, "stroke": "#111", "strokeWidth": 3.3, "size": 230, "opacity": 1},
          "encoding": {"x": {"field": "t", "type": "quantitative", "axis": null}, "y": {"field": "n", "type": "quantitative", "axis": null}}
        },
        {
          "data": {"name": "anchor"},
          "mark": {"type": "text", "align": "right", "baseline": "alphabetic", "fontSize": 86, "fontWeight": "bold"},
          "encoding": {"x": {"datum": 4.73, "type": "quantitative", "axis": null}, "y": {"datum": 0.552, "type": "quantitative", "axis": null}, "text": {"value": "d"}}
        },
        {
          "data": {"name": "anchor"},
          "mark": {"type": "text", "align": "right", "baseline": "alphabetic", "fontSize": 62, "fontStyle": "italic", "dx": -191},
          "encoding": {"x": {"datum": 4.72, "type": "quantitative", "axis": null}, "y": {"datum": 0.218, "type": "quantitative", "axis": null}, "text": {"value": "U/J"}}
        },
        {
          "data": {"name": "anchor"},
          "mark": {"type": "text", "align": "right", "baseline": "alphabetic", "fontSize": 62},
          "encoding": {"x": {"datum": 4.72, "type": "quantitative", "axis": null}, "y": {"datum": 0.218, "type": "quantitative", "axis": null}, "text": {"value": " = 9.91"}}
        },
        {
          "data": {"name": "anchor"},
          "mark": {"type": "text", "align": "right", "baseline": "alphabetic", "fontSize": 62, "fontStyle": "italic", "dx": -314},
          "encoding": {"x": {"datum": 4.72, "type": "quantitative", "axis": null}, "y": {"datum": 0.081, "type": "quantitative", "axis": null}, "text": {"value": "K/J"}}
        },
        {
          "data": {"name": "anchor"},
          "mark": {"type": "text", "align": "right", "baseline": "alphabetic", "fontSize": 62, "dx": -32},
          "encoding": {"x": {"datum": 4.72, "type": "quantitative", "axis": null}, "y": {"datum": 0.081, "type": "quantitative", "axis": null}, "text": {"value": " = 14.5·10"}}
        },
        {
          "data": {"name": "anchor"},
          "mark": {"type": "text", "align": "right", "baseline": "alphabetic", "fontSize": 36, "dy": -22},
          "encoding": {"x": {"datum": 4.72, "type": "quantitative", "axis": null}, "y": {"datum": 0.081, "type": "quantitative", "axis": null}, "text": {"value": "-3"}}
        }
      ]
    }
  ]
}
